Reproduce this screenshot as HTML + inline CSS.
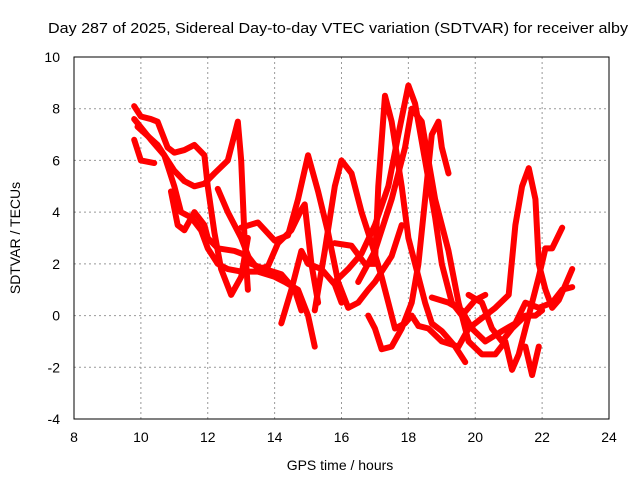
<!DOCTYPE html>
<html><head><meta charset="utf-8"><style>body{margin:0;background:#fff}svg{display:block;font-family:"Liberation Sans",sans-serif}</style></head>
<body>
<svg id="chart" width="640" height="480" viewBox="0 0 640 480">
<rect width="640" height="480" fill="#fff"/>
<text x="48" y="33" font-size="15" textLength="580" lengthAdjust="spacingAndGlyphs">Day 287 of 2025, Sidereal Day-to-day VTEC variation (SDTVAR) for receiver alby</text>
<text x="340" y="470" font-size="14" text-anchor="middle">GPS time / hours</text>
<text transform="translate(20,238) rotate(-90)" font-size="14" text-anchor="middle">SDTVAR / TECUs</text>
<g id="grid"></g><g id="series"></g>
<rect x="74" y="57" width="535" height="362" fill="none" stroke="#000" stroke-width="1"/>
</svg>
<script>
const xTicks=[8,10,12,14,16,18,20,22,24];
const yTicks=[-4,-2,0,2,4,6,8,10];
const tracks=[
[[9.8,8.1],[10.0,7.7],[10.3,7.6],[10.5,7.5],[10.8,6.5],[11.0,6.3],[11.3,6.4],[11.6,6.6],[11.9,6.2],[12.0,5.0],[12.2,3.2],[12.4,1.8],[12.7,0.8],[13.0,1.5],[13.2,3.0]],
[[9.8,7.6],[10.3,6.8],[10.7,6.2],[11.0,5.0],[11.2,4.0],[11.5,3.8],[11.8,3.3],[12.0,2.6],[12.3,2.0],[12.6,1.8],[13.0,1.7],[13.5,1.7],[14.0,1.5],[14.3,1.3],[14.7,1.0],[15.0,0.0],[15.2,-1.2]],
[[9.8,6.8],[10.0,6.0],[10.4,5.9]],
[[9.9,7.3],[10.5,6.6],[11.0,5.6],[11.3,5.2],[11.6,5.0],[11.9,5.1],[12.2,5.5],[12.6,6.0],[12.9,7.5],[13.0,6.0],[13.1,3.0],[13.2,1.0]],
[[10.9,4.8],[11.1,3.5],[11.3,3.3],[11.6,4.0],[11.9,3.5],[12.0,3.0],[12.3,2.6],[12.8,2.5],[13.2,2.3],[13.5,1.8],[13.8,1.9],[14.1,2.8],[14.5,3.3],[14.8,4.1],[14.9,4.3],[15.1,2.0],[15.3,0.5]],
[[13.0,3.4],[13.5,3.6],[14.0,2.9],[14.4,3.1],[14.7,4.5],[15.0,6.2],[15.3,4.8],[15.6,3.2],[15.9,1.3],[16.2,0.3],[16.5,0.5],[16.8,1.0],[17.0,1.3],[17.5,2.3],[17.8,3.5]],
[[12.3,4.9],[12.6,4.0],[13.0,3.0],[13.3,2.0],[13.7,1.8],[14.2,1.6],[14.6,1.0],[14.8,0.2]],
[[14.2,-0.3],[14.5,1.0],[14.8,2.5],[15.0,2.0],[15.4,1.8],[15.8,1.2],[16.0,0.5]],
[[15.2,0.2],[15.5,2.5],[15.8,5.0],[16.0,6.0],[16.3,5.5],[16.6,4.0],[16.9,2.8],[17.2,1.5],[17.4,0.5],[17.6,-0.5],[17.9,-0.3],[18.1,0.0],[18.3,-0.4]],
[[15.8,2.8],[16.3,2.7],[16.7,2.0],[17.0,2.0],[17.1,5.0],[17.3,8.5],[17.5,7.5],[17.8,5.0],[18.0,3.0],[18.3,1.5],[18.5,0.5],[18.7,-0.3],[19.0,-0.6],[19.4,-1.2],[19.7,-1.8]],
[[15.8,1.3],[16.2,1.8],[16.6,2.4],[17.0,3.5],[17.4,5.0],[17.7,7.0],[18.0,8.9],[18.2,8.2],[18.5,6.0],[18.8,3.8],[19.0,2.0],[19.3,0.5],[19.6,0.0],[20.0,0.6],[20.3,0.8]],
[[16.5,1.3],[17.0,2.5],[17.5,4.5],[17.9,6.5],[18.1,8.0],[18.4,7.5],[18.6,6.0],[18.8,4.5],[19.2,2.5],[19.5,0.5],[19.8,-1.0],[20.2,-1.5],[20.6,-1.5],[20.9,-1.0],[21.1,-2.1],[21.3,-1.5],[21.6,0.0],[21.9,1.5],[22.1,2.6],[22.3,2.6],[22.6,3.4]],
[[16.8,0.0],[17.0,-0.5],[17.2,-1.3],[17.5,-1.2],[17.8,-0.5],[18.1,0.5],[18.3,2.0],[18.5,4.5],[18.7,7.0],[18.9,7.5],[19.0,6.5],[19.2,5.5]],
[[18.3,-0.4],[18.6,-0.5],[19.0,-1.0],[19.5,-1.2],[19.8,-0.5],[20.2,-0.1],[20.6,0.3],[21.0,0.8],[21.2,3.5],[21.4,5.0],[21.6,5.7],[21.8,4.5],[21.9,2.0],[22.1,1.0],[22.3,0.3],[22.5,0.6],[22.7,1.2],[22.9,1.8]],
[[18.7,0.7],[19.2,0.5],[19.6,0.2],[19.9,-0.5],[20.3,-1.0],[20.8,-0.6],[21.2,-0.3],[21.5,0.5],[21.9,0.3],[22.3,0.5],[22.6,1.0],[22.9,1.1]],
[[19.8,0.8],[20.2,0.5],[20.5,-0.5],[20.8,-1.0],[21.1,-0.5],[21.5,0.0],[21.8,0.0],[22.0,0.2]],
[[21.5,-1.2],[21.7,-2.3],[21.9,-1.2]]
];
const NS="http://www.w3.org/2000/svg";
const X=v=>74+(v-8)*535/16, Y=v=>57+(10-v)*362/14;
const grid=document.getElementById('grid'), ser=document.getElementById('series');
function mk(tag,attrs,parent){const e=document.createElementNS(NS,tag);for(const k in attrs)e.setAttribute(k,attrs[k]);parent.appendChild(e);return e;}
xTicks.forEach(t=>{
  if(t>8&&t<24){const l=mk('line',{x1:X(t),x2:X(t),y1:57,y2:419,stroke:'#999','stroke-dasharray':'2,3'},grid);
  
  }
  const tx=mk('text',{x:X(t),y:442,'font-size':14,'text-anchor':'middle'},grid);tx.textContent=t;
  
  
});
yTicks.forEach(t=>{
  if(t>-4&&t<10){const l=mk('line',{x1:74,x2:609,y1:Y(t),y2:Y(t),stroke:'#999','stroke-dasharray':'2,3'},grid);
  
  }
  const tx=mk('text',{x:60,y:Y(t)+5,'font-size':14,'text-anchor':'end'},grid);tx.textContent=t;
  
  
});
tracks.forEach(tr=>{
  const p=mk('polyline',{points:tr.map(d=>X(d[0])+','+Y(d[1])).join(' '),fill:'none',stroke:'#f00','stroke-width':6,'stroke-linejoin':'round','stroke-linecap':'round'},ser);
  
  
});
</script>
</body></html>
